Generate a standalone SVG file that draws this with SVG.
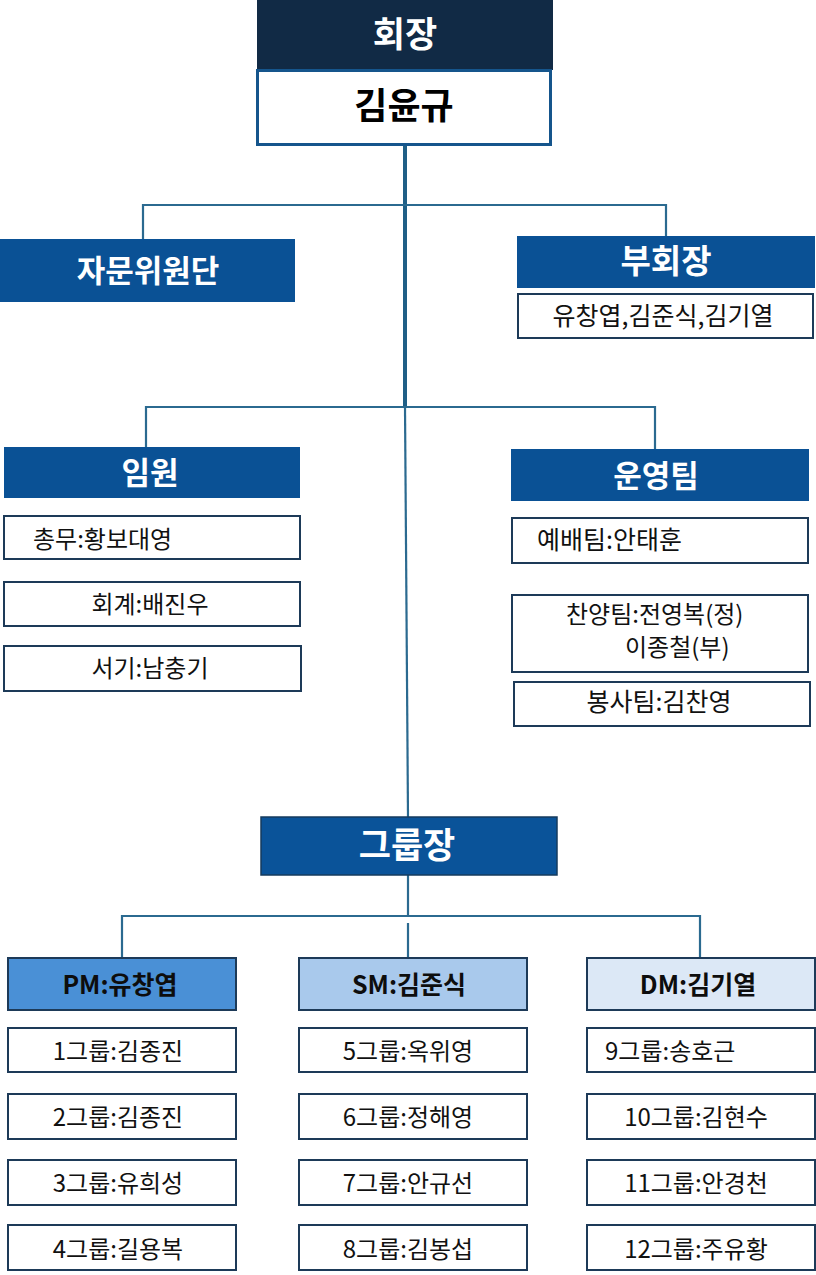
<svg xmlns="http://www.w3.org/2000/svg" width="816" height="1275" viewBox="0 0 816 1275">
<style>
.t{font-family:"Noto Sans CJK KR","Noto Sans",sans-serif;}
.hd{font-weight:700;fill:#ffffff;font-size:31px;text-anchor:middle;}
.bx{fill:#ffffff;stroke:#1d3a58;stroke-width:2;}
.tx{font-size:24px;fill:#111111;}
.c{text-anchor:middle;}
.blue{fill:#0a5195;}
.gh{stroke:#1d3a58;stroke-width:2;}
.ght{font-weight:700;font-size:25px;fill:#0d0d0d;text-anchor:middle;}
.gt{font-size:24px;fill:#111111;}
.cn{stroke:#2b6a90;stroke-width:2.2;fill:none;}
</style>
<g id="connectors">
<line class="cn" x1="405" y1="145" x2="405" y2="407" style="stroke-width:4;stroke:#1f5f86"/>
<line class="cn" x1="405" y1="407" x2="408" y2="817"/>
<polyline class="cn" points="143,239 143,205 666,205 666,236"/>
<polyline class="cn" points="146,447 146,407 655,407 655,449"/>
<line class="cn" x1="408" y1="875" x2="408" y2="916"/>
<polyline class="cn" points="122,957 122,916 700,916 700,957"/>
<line class="cn" x1="408" y1="923" x2="408" y2="957"/>
</g>
<g id="chairman">
<rect x="257" y="0" width="296" height="70" fill="#112a45"/>
<text class="t hd" x="405" y="47" style="font-size:35px">회장</text>
</g>
<g id="chairman-name">
<rect x="257.5" y="70.5" width="293" height="74" fill="#ffffff" stroke="#15558c" stroke-width="3"/>
<text class="t c" x="404" y="119" style="font-size:36px;font-weight:700;fill:#000">김윤규</text>
</g>
<g id="advisors">
<rect class="blue" x="0" y="239" width="295" height="63"/>
<text class="t hd" x="148" y="282">자문위원단</text>
</g>
<g id="vice">
<rect class="blue" x="517" y="236" width="298" height="52"/>
<text class="t hd" x="666" y="273" style="font-size:33px">부회장</text>
<rect class="bx" x="518" y="294" width="295" height="44"/>
<text class="t tx c" x="663" y="325" style="font-size:25px">유창엽,김준식,김기열</text>
</g>
<g id="officers">
<rect class="blue" x="4" y="447" width="296" height="51"/>
<text class="t hd" x="150" y="484">임원</text>
<rect class="bx" x="4" y="516" width="296" height="43"/>
<text class="t tx" x="33" y="548">총무:황보대영</text>
<rect class="bx" x="4" y="582" width="296" height="44"/>
<text class="t tx c" x="150" y="613">회계:배진우</text>
<rect class="bx" x="4" y="646" width="297" height="45"/>
<text class="t tx c" x="150" y="677">서기:남충기</text>
</g>
<g id="ops">
<rect class="blue" x="511" y="449" width="298" height="52"/>
<text class="t hd" x="656" y="487">운영팀</text>
<rect class="bx" x="512" y="518" width="296" height="45"/>
<text class="t tx" x="537" y="549" style="font-size:25px">예배팀:안태훈</text>
<rect class="bx" x="512" y="595" width="296" height="77"/>
<text class="t tx" x="566" y="623">찬양팀:전영복(정)</text>
<text class="t tx" x="625" y="656">이종철(부)</text>
<rect class="bx" x="514" y="682" width="296" height="44"/>
<text class="t tx c" x="659" y="711" style="font-size:25px">봉사팀:김찬영</text>
</g>
<g id="group-leaders">
<rect x="261" y="817" width="296" height="58" fill="#0a5399" stroke="#163b5e" stroke-width="1.5"/>
<text class="t hd" x="407" y="858" style="font-size:35px">그룹장</text>
</g>
<g id="pm">
<rect class="gh" x="8" y="958" width="228" height="52" fill="#4a90d6"/>
<text class="t ght" x="120" y="994">PM:유창엽</text>
<rect class="bx" x="8" y="1028" width="228" height="44"/>
<text class="t gt c" x="118" y="1060">1그룹:김종진</text>
<rect class="bx" x="8" y="1094" width="228" height="45"/>
<text class="t gt c" x="118" y="1126">2그룹:김종진</text>
<rect class="bx" x="8" y="1160" width="228" height="45"/>
<text class="t gt c" x="118" y="1192">3그룹:유희성</text>
<rect class="bx" x="8" y="1225" width="228" height="45"/>
<text class="t gt c" x="118" y="1258">4그룹:길용복</text>
</g>
<g id="sm">
<rect class="gh" x="299" y="958" width="228" height="52" fill="#a9c9ec"/>
<text class="t ght" x="409" y="994">SM:김준식</text>
<rect class="bx" x="299" y="1028" width="228" height="44"/>
<text class="t gt c" x="408" y="1060">5그룹:옥위영</text>
<rect class="bx" x="299" y="1094" width="228" height="45"/>
<text class="t gt c" x="408" y="1126">6그룹:정해영</text>
<rect class="bx" x="299" y="1160" width="228" height="45"/>
<text class="t gt c" x="408" y="1192">7그룹:안규선</text>
<rect class="bx" x="299" y="1225" width="228" height="45"/>
<text class="t gt c" x="408" y="1258">8그룹:김봉섭</text>
</g>
<g id="dm">
<rect class="gh" x="587" y="958" width="228" height="52" fill="#dce8f6"/>
<text class="t ght" x="698" y="994">DM:김기열</text>
<rect class="bx" x="587" y="1028" width="228" height="44"/>
<text class="t gt" x="605" y="1060">9그룹:송호근</text>
<rect class="bx" x="587" y="1094" width="228" height="45"/>
<text class="t gt c" x="696" y="1126">10그룹:김현수</text>
<rect class="bx" x="587" y="1160" width="228" height="45"/>
<text class="t gt c" x="696" y="1192">11그룹:안경천</text>
<rect class="bx" x="587" y="1225" width="228" height="45"/>
<text class="t gt c" x="696" y="1258">12그룹:주유황</text>
</g>
</svg>
